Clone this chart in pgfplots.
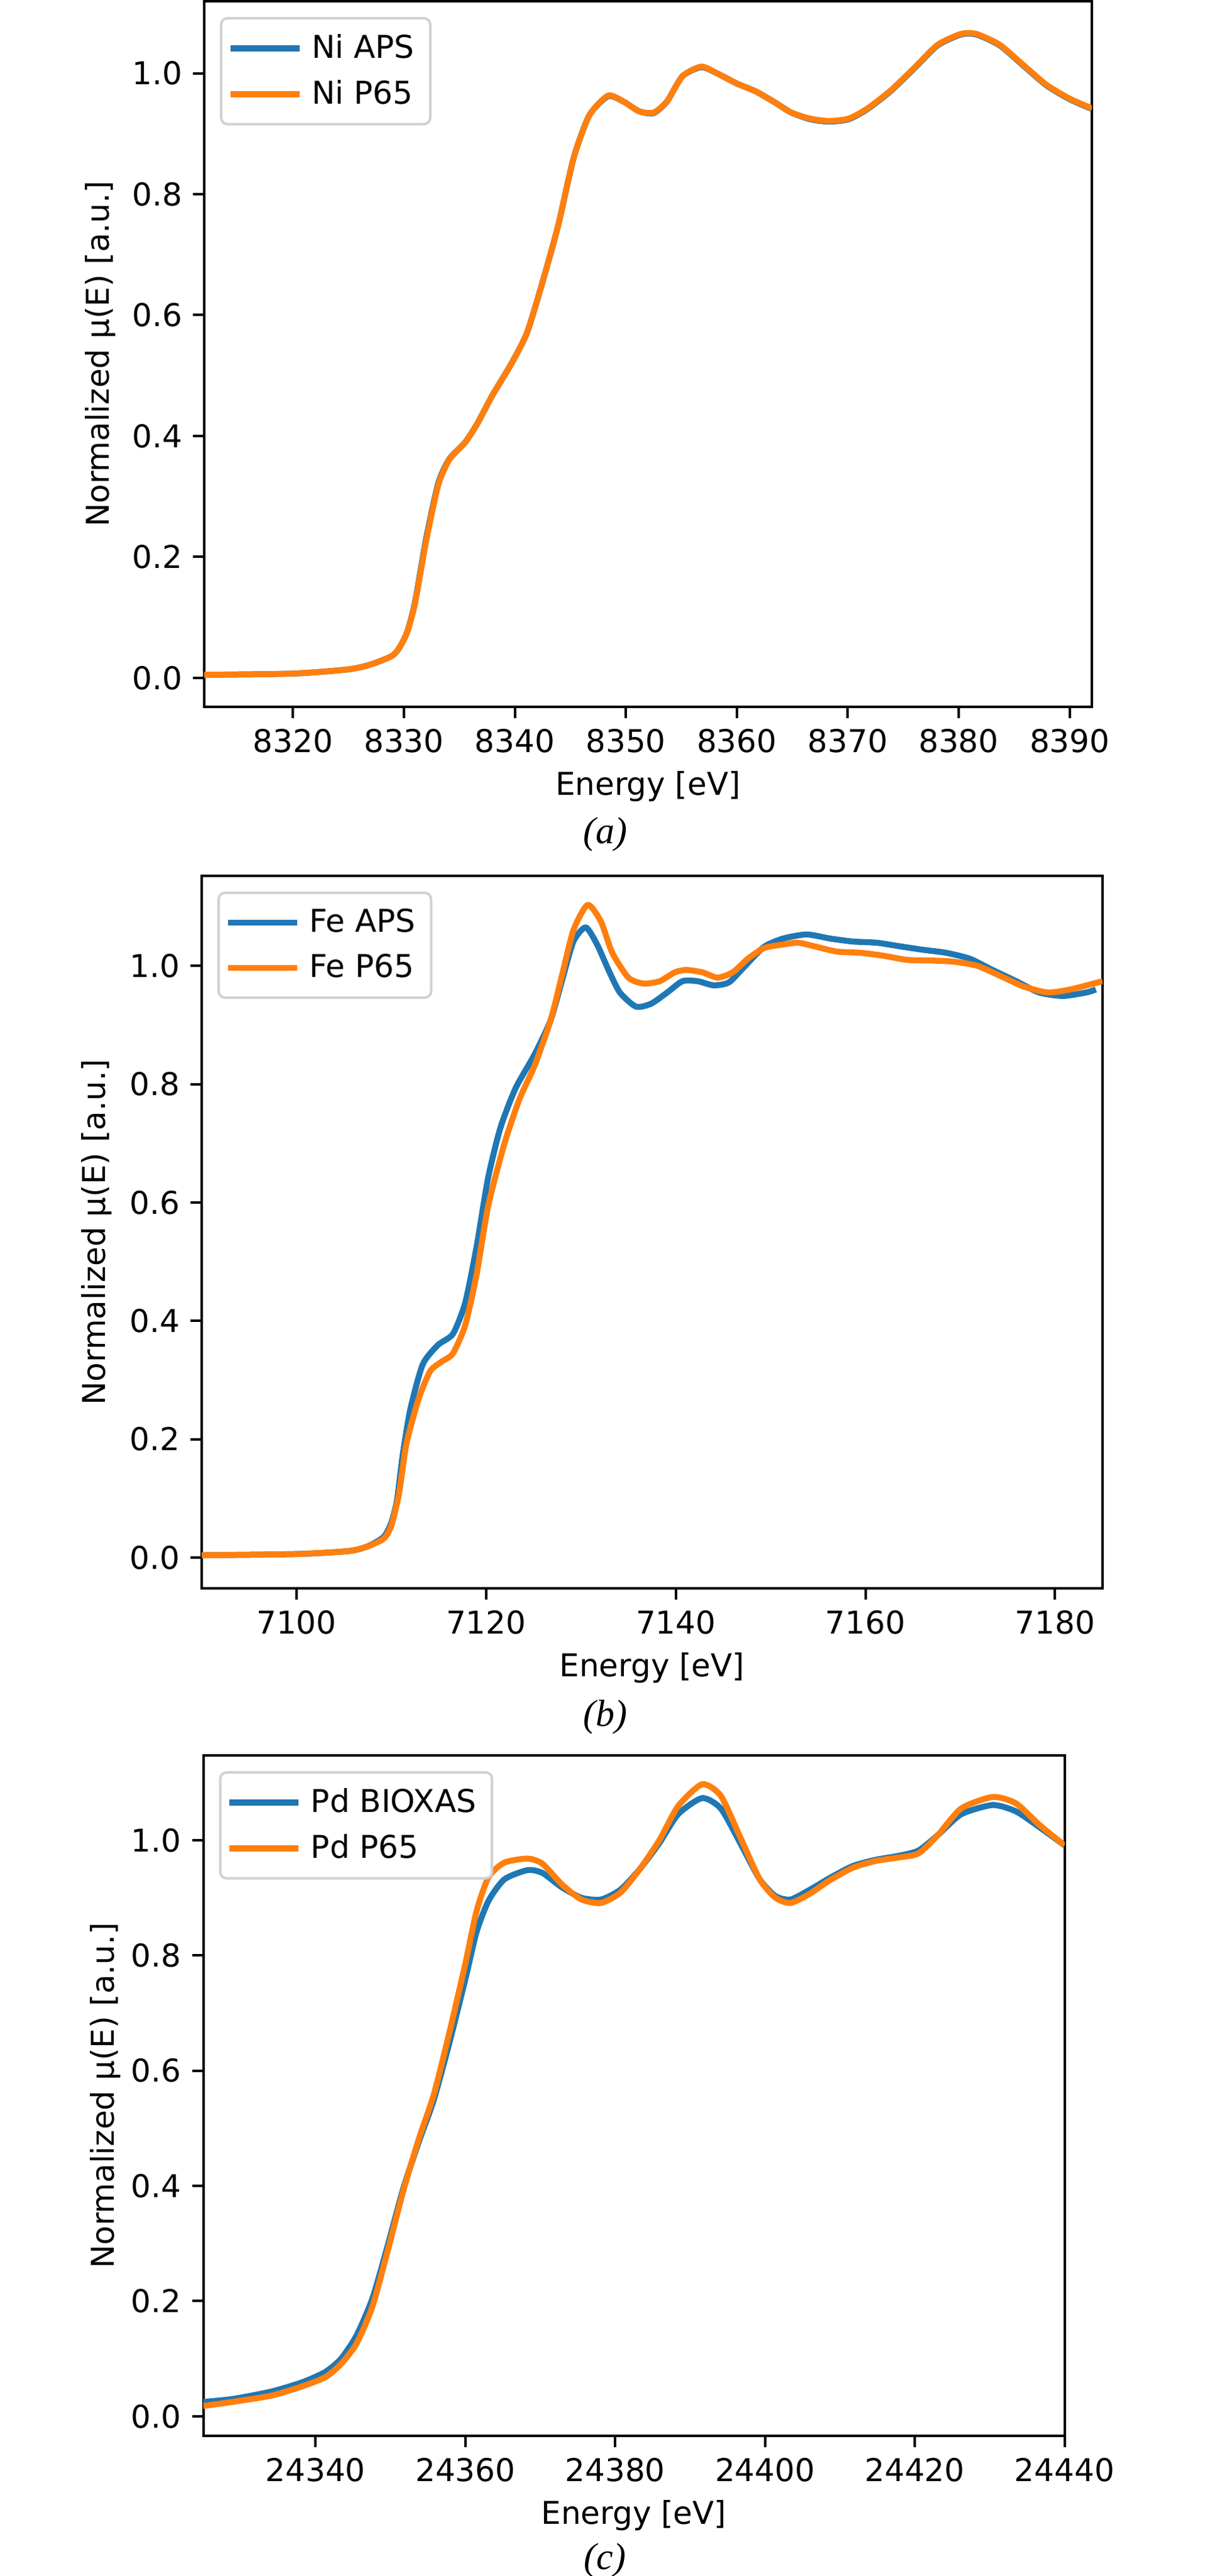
\documentclass[border=0pt]{standalone}
\usepackage{fontspec}
\setmainfont{DejaVu Sans}
\newfontfamily\capfont{Liberation Serif}
\usepackage{pgfplots}
\pgfplotsset{compat=1.18}
\definecolor{tabblue}{HTML}{1F77B4}
\definecolor{taborange}{HTML}{FF7F0E}
\pgfplotsset{
  myax/.style={
    scale only axis, anchor=south west,
    axis line style={line width=0.8pt},
    every tick/.style={line width=0.8pt, black},
    tick align=outside, major tick length=3.5pt,
    tick pos=left,
    scaled x ticks=false, scaled y ticks=false,
    /pgf/number format/assume math mode=true,
    yticklabel style={/pgf/number format/.cd, fixed, fixed zerofill, precision=1},
    xticklabel style={/pgf/number format/.cd, fixed, precision=0, 1000 sep={}},
    tick label style={font=\fontsize{10}{12}\selectfont},
    label style={font=\fontsize{10}{12}\selectfont},
    xlabel={Energy [eV]},
    ylabel={Normalized µ(E) [a.u.]},
    x label style={at={(axis description cs:0.5,0)}, anchor=center, yshift=-25.4pt},
    ytick={0,0.2,0.4,0.6,0.8,1.0},
    every axis plot/.append style={line width=1.9pt, line join=round, smooth, tension=0.4},
    legend cell align=left,
    legend image code/.code={\draw[#1, line width=1.9pt] (0pt,0pt) -- (22pt,0pt);},
    legend style={draw=black!18, line width=0.8pt, rounded corners=2pt, fill=white,
      at={(0,1)}, anchor=north west, xshift=5pt, yshift=-5pt,
      inner xsep=2pt, inner ysep=3pt, row sep=1.5pt,
      font=\fontsize{10}{12}\selectfont,
      nodes={inner xsep=3pt, inner ysep=2pt}},
  }
}
\begin{document}
\begin{tikzpicture}
\path[use as bounding box] (0,0) rectangle (385.2pt,-820pt);
% ---------------- (a)
\begin{axis}[myax, at={(65pt,-225pt)}, width=282.6pt, height=224.6pt,
  xmin=8312, xmax=8392, ymin=-0.048, ymax=1.119,
  xtick={8320,8330,8340,8350,8360,8370,8380,8390},
  y label style={at={(axis description cs:-0.1168,0.5)}, anchor=center}]
\addplot[tabblue] coordinates {
(8312,0.005)(8320,0.007)(8325,0.014)(8327,0.022)(8328.9,0.036)(8329.6,0.05)(8330.3,0.076)(8331,0.125)(8332,0.23)(8333.1,0.322)(8334.1,0.362)(8335.5,0.389)(8336.6,0.42)(8338,0.468)(8339.7,0.52)(8341.1,0.571)(8342.5,0.655)(8343.9,0.748)(8345.3,0.86)(8346.7,0.93)(8348.4,0.962)(8349.8,0.953)(8351.2,0.937)(8352.5,0.934)(8353.7,0.953)(8355.1,0.995)(8356.8,1.010)(8358.2,1.0)(8360,0.983)(8361.7,0.970)(8363.5,0.951)(8364.9,0.935)(8366.6,0.924)(8368.3,0.920)(8370.1,0.924)(8371.8,0.941)(8373.9,0.971)(8376,1.008)(8378.1,1.046)(8380.2,1.064)(8381.6,1.064)(8383.7,1.046)(8385.8,1.013)(8387.9,0.980)(8390,0.957)(8392,0.941)};
\addlegendentry{Ni APS}
\addplot[taborange] coordinates {
(8312,0.005)(8320,0.007)(8325,0.014)(8327,0.022)(8328.9,0.036)(8329.6,0.05)(8330.3,0.076)(8331,0.123)(8332,0.226)(8333.1,0.319)(8334.1,0.361)(8335.5,0.389)(8336.6,0.42)(8338,0.468)(8339.7,0.52)(8341.1,0.571)(8342.5,0.655)(8343.9,0.748)(8345.3,0.86)(8346.7,0.93)(8348.4,0.963)(8349.8,0.953)(8351.2,0.937)(8352.5,0.935)(8353.7,0.953)(8355.1,0.995)(8356.8,1.011)(8358.2,1.0)(8360,0.983)(8361.7,0.970)(8363.5,0.951)(8364.9,0.935)(8366.6,0.925)(8368.3,0.921)(8370.1,0.925)(8371.8,0.942)(8373.9,0.972)(8376,1.009)(8378.1,1.047)(8380.2,1.065)(8381.6,1.065)(8383.7,1.047)(8385.8,1.014)(8387.9,0.981)(8390,0.958)(8392,0.942)};
\addlegendentry{Ni P65}
\end{axis}
% ---------------- (b)
\begin{axis}[myax, at={(64.2pt,-505.6pt)}, width=286.8pt, height=226.8pt,
  xmin=7090, xmax=7185, ymin=-0.052, ymax=1.152,
  xtick={7100,7120,7140,7160,7180},
  y label style={at={(axis description cs:-0.1165,0.5)}, anchor=center}]
\addplot[tabblue] coordinates {
(7090,0.004)(7100,0.006)(7105.5,0.011)(7107.5,0.019)(7109.2,0.035)(7110,0.059)(7110.6,0.097)(7111.2,0.173)(7112,0.25)(7113.3,0.326)(7114.9,0.359)(7116.5,0.378)(7117.8,0.431)(7119,0.526)(7120.2,0.641)(7121.5,0.726)(7123.1,0.793)(7125.1,0.85)(7126.8,0.908)(7128,0.975)(7129.2,1.041)(7130.5,1.065)(7131.7,1.036)(7132.9,0.993)(7134.1,0.955)(7135.8,0.931)(7137.4,0.936)(7139.1,0.955)(7140.7,0.974)(7142.3,0.974)(7144,0.967)(7145.6,0.972)(7147.2,0.998)(7149.3,1.032)(7151.3,1.046)(7153.8,1.053)(7156.3,1.046)(7158.7,1.041)(7161.2,1.039)(7163.6,1.033)(7166.1,1.027)(7168.5,1.022)(7171,1.012)(7173.4,0.993)(7175.9,0.974)(7178.3,0.955)(7180.8,0.949)(7183.3,0.955)(7184.3,0.96)};
\addlegendentry{Fe APS}
\addplot[taborange] coordinates {
(7090,0.004)(7100,0.006)(7105.5,0.011)(7107.5,0.019)(7109.2,0.032)(7110,0.054)(7110.8,0.107)(7111.6,0.193)(7112.9,0.269)(7114.1,0.315)(7115.3,0.331)(7116.5,0.345)(7117.8,0.393)(7119,0.479)(7120.2,0.593)(7121.9,0.698)(7123.5,0.774)(7125.1,0.831)(7126.8,0.908)(7128,0.984)(7129.2,1.06)(7130.7,1.103)(7132.1,1.075)(7133.3,1.022)(7135,0.98)(7136.6,0.97)(7138.3,0.974)(7139.9,0.989)(7141.1,0.993)(7142.8,0.989)(7144.4,0.98)(7146,0.989)(7147.6,1.012)(7149.3,1.03)(7151.3,1.036)(7152.9,1.039)(7154.6,1.033)(7157,1.024)(7159.5,1.022)(7161.9,1.017)(7164.4,1.01)(7166.9,1.009)(7169.3,1.007)(7171.8,1.0)(7174.2,0.983)(7176.7,0.965)(7179.2,0.955)(7181.6,0.96)(7185,0.974)};
\addlegendentry{Fe P65}
\end{axis}
% ---------------- (c)
\begin{axis}[myax, at={(64.7pt,-775.4pt)}, width=274.2pt, height=216.6pt,
  xmin=24325, xmax=24440, ymin=-0.034, ymax=1.147,
  xtick={24340,24360,24380,24400,24420,24440},
  xticklabels={24340,24360,24380,24400,24420,24440},
  y label style={at={(axis description cs:-0.1138,0.5)}, anchor=center}]
\addplot[tabblue] coordinates {
(24325,0.025)(24328.9,0.03)(24334.1,0.043)(24338.2,0.059)(24341.3,0.077)(24343.4,0.1)(24345.5,0.141)(24347.6,0.205)(24349.6,0.295)(24351.7,0.395)(24353.8,0.477)(24355.8,0.55)(24357.9,0.65)(24360,0.759)(24361.5,0.841)(24363.1,0.895)(24365.2,0.932)(24368.3,0.948)(24370.3,0.943)(24372.9,0.918)(24375.5,0.9)(24378.1,0.897)(24380.7,0.914)(24383.3,0.95)(24385.9,0.995)(24388.4,1.045)(24391.6,1.073)(24394.1,1.055)(24396.7,0.995)(24399.3,0.932)(24401.4,0.903)(24403.4,0.897)(24406,0.914)(24408.6,0.934)(24411.7,0.955)(24414.8,0.966)(24417.9,0.973)(24420.5,0.982)(24423.1,1.009)(24426.2,1.045)(24430.4,1.061)(24433.5,1.05)(24436.6,1.023)(24440,0.991)};
\addlegendentry{Pd BIOXAS}
\addplot[taborange] coordinates {
(24325,0.018)(24328.9,0.025)(24334.1,0.036)(24338.2,0.052)(24341.3,0.068)(24343.4,0.091)(24345.5,0.127)(24347.6,0.191)(24349.6,0.286)(24351.7,0.391)(24353.8,0.482)(24355.8,0.559)(24357.9,0.668)(24360,0.786)(24361.5,0.877)(24363.1,0.936)(24365.2,0.961)(24368.3,0.968)(24370.3,0.959)(24372.9,0.923)(24375.5,0.897)(24378.1,0.891)(24380.7,0.909)(24383.3,0.95)(24385.9,1.0)(24388.4,1.059)(24391.6,1.097)(24394.1,1.077)(24396.7,1.005)(24399.3,0.932)(24401.4,0.9)(24403.4,0.891)(24406,0.907)(24408.6,0.93)(24411.7,0.952)(24414.8,0.964)(24417.9,0.970)(24420.5,0.977)(24423.1,1.009)(24426.2,1.055)(24430.4,1.075)(24433.5,1.064)(24436.6,1.027)(24440,0.991)};
\addlegendentry{Pd P65}
\end{axis}
\node[font=\capfont\itshape\fontsize{12}{14}\selectfont] at (192.6pt,-265.6pt) {(a)};
\node[font=\capfont\itshape\fontsize{12}{14}\selectfont] at (192.6pt,-546.6pt) {(b)};
\node[font=\capfont\itshape\fontsize{12}{14}\selectfont] at (192.6pt,-815pt) {(c)};
\end{tikzpicture}
\end{document}
